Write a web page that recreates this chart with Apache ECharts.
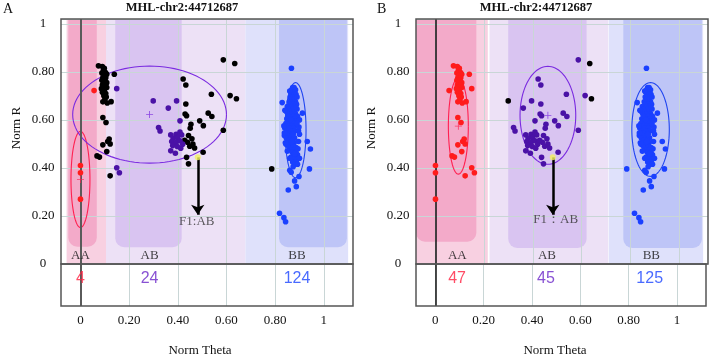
<!DOCTYPE html>
<html><head><meta charset="utf-8">
<script src="https://cdn.jsdelivr.net/npm/echarts@6/dist/echarts.min.js"></script>
<style>html,body{margin:0;padding:0;background:#fff}#c{width:709px;height:358px}</style>
</head><body><div id="c"></div>
<script>
// ---------------- DATA ----------------
const chartTitle = 'MHL-chr2:44712687';
const panelLetters = ['A', 'B'];
const clusterNames = ['AA', 'AB', 'BB'];
const countsA = [4, 24, 124];
const countsB = [47, 45, 125];
const xTickValues = [0, 0.2, 0.4, 0.6, 0.8, 1];
const xTickLabels = ['0', '0.20', '0.40', '0.60', '0.80', '1'];
const yTickValues = [0, 0.2, 0.4, 0.6, 0.8, 1];
const yTickLabels = ['0', '0.20', '0.40', '0.60', '0.80', '1'];
const noteA = 'F1:AB';
const noteB = 'F1\uFF1AAB';

// samples [Norm Theta, Norm R], grouped by (call in A, call in B)
const redRed = [[0, 0.41], [0, 0.38], [0, 0.27], [0.056, 0.722]];
const blackRed = [
  [0.074, 0.825], [0.09, 0.822], [0.098, 0.815], [0.094, 0.805], [0.1, 0.8], [0.088, 0.795], [0.104, 0.795],
  [0.097, 0.785], [0.108, 0.79], [0.092, 0.775], [0.104, 0.775], [0.088, 0.765], [0.1, 0.765], [0.094, 0.755],
  [0.108, 0.755], [0.09, 0.745], [0.104, 0.745], [0.096, 0.735], [0.108, 0.735], [0.098, 0.725], [0.09, 0.715],
  [0.104, 0.71], [0.096, 0.7], [0.106, 0.695], [0.1, 0.685], [0.092, 0.675], [0.11, 0.67], [0.126, 0.676],
  [0.139, 0.79], [0.086, 0.73],
  [0.092, 0.61], [0.105, 0.589], [0.092, 0.496], [0.112, 0.51], [0.118, 0.52], [0.122, 0.5], [0.108, 0.468],
  [0.068, 0.45], [0.078, 0.445], [0.122, 0.367]
];
const purpleRed = [[0.149, 0.73], [0.149, 0.401], [0.16, 0.38]];
const purpleBlack = [[0.299, 0.679]];
const purplePurple = [
  [0.361, 0.649], [0.395, 0.679], [0.409, 0.596], [0.321, 0.568], [0.327, 0.554],
  [0.371, 0.5375], [0.393, 0.54], [0.409, 0.549], [0.416, 0.5375], [0.381, 0.524], [0.399, 0.526],
  [0.375, 0.51], [0.393, 0.507], [0.409, 0.513], [0.42, 0.499], [0.379, 0.493], [0.398, 0.489],
  [0.412, 0.482], [0.371, 0.471], [0.39, 0.461]
];
const blackPurple = [
  [0.587, 0.85], [0.422, 0.77], [0.433, 0.745], [0.538, 0.707], [0.615, 0.701], [0.433, 0.666],
  [0.43, 0.624], [0.436, 0.617], [0.525, 0.628], [0.54, 0.614], [0.454, 0.582], [0.451, 0.565],
  [0.49, 0.596], [0.505, 0.576], [0.587, 0.557], [0.436, 0.444], [0.444, 0.417], [0.504, 0.465],
  [0.444, 0.535], [0.458, 0.521], [0.44, 0.507], [0.462, 0.499], [0.449, 0.49], [0.469, 0.483], [0.428, 0.515]
];
const blackBlack = [[0.634, 0.835], [0.641, 0.688]];
const blackBlue = [[0.786, 0.396]];
const blueBlue = [
  [0.867, 0.815], [0.829, 0.672], [0.932, 0.51], [0.945, 0.479], [0.941, 0.396], [0.854, 0.308], [0.887, 0.322],
  [0.88, 0.346], [0.866, 0.382], [0.898, 0.364], [0.818, 0.211], [0.836, 0.193], [0.843, 0.176], [0.912, 0.628], [0.86, 0.39],
  [0.872, 0.735], [0.878, 0.735],
  [0.868, 0.725], [0.876, 0.725], [0.884, 0.725],
  [0.864, 0.715], [0.872, 0.715], [0.88, 0.715],
  [0.87, 0.705], [0.878, 0.705], [0.886, 0.705],
  [0.862, 0.695], [0.874, 0.695], [0.882, 0.695],
  [0.866, 0.685], [0.878, 0.685],
  [0.858, 0.675], [0.87, 0.675], [0.884, 0.675],
  [0.862, 0.665], [0.876, 0.665], [0.888, 0.665],
  [0.85, 0.655], [0.868, 0.655], [0.88, 0.655],
  [0.856, 0.645], [0.874, 0.645], [0.89, 0.645],
  [0.846, 0.635], [0.862, 0.635], [0.878, 0.635],
  [0.852, 0.625], [0.87, 0.625], [0.884, 0.625],
  [0.858, 0.615], [0.876, 0.615], [0.892, 0.615],
  [0.848, 0.605], [0.866, 0.605], [0.882, 0.605],
  [0.854, 0.595], [0.872, 0.595], [0.888, 0.595],
  [0.844, 0.585], [0.862, 0.585], [0.878, 0.585],
  [0.852, 0.575], [0.868, 0.575], [0.884, 0.575],
  [0.84, 0.565], [0.86, 0.565], [0.876, 0.565],
  [0.848, 0.555], [0.866, 0.555], [0.882, 0.555], [0.896, 0.555],
  [0.856, 0.545], [0.874, 0.545],
  [0.838, 0.535], [0.852, 0.535], [0.87, 0.535],
  [0.846, 0.525], [0.864, 0.525], [0.88, 0.525],
  [0.856, 0.515], [0.872, 0.515],
  [0.842, 0.505], [0.862, 0.505], [0.878, 0.505],
  [0.85, 0.495], [0.868, 0.495],
  [0.858, 0.485], [0.874, 0.485], [0.886, 0.485],
  [0.864, 0.475], [0.88, 0.475],
  [0.87, 0.465], [0.886, 0.465],
  [0.876, 0.455], [0.892, 0.455],
  [0.866, 0.445], [0.882, 0.445],
  [0.878, 0.435], [0.89, 0.435],
  [0.872, 0.425], [0.886, 0.425],
  [0.88, 0.415], [0.892, 0.415],
  [0.874, 0.405],
  [0.84, 0.64], [0.836, 0.575], [0.838, 0.545], [0.844, 0.5], [0.85, 0.47], [0.86, 0.44], [0.9, 0.6],
  [0.898, 0.57], [0.9, 0.54], [0.896, 0.51], [0.894, 0.48], [0.9, 0.44], [0.89, 0.695], [0.886, 0.65],
  [0.89, 0.585], [0.86, 0.72], [0.864, 0.6], [0.874, 0.54], [0.868, 0.51], [0.88, 0.46]
];
const highlightSample = [[0.482, 0.444]];
const arrowTipR = 0.205;

// cluster ellipses [theta centre, R centre, theta radius, R radius] in order AA, AB, BB
const ellipsesA = [[0, 0.352, 0.039, 0.2], [0.284, 0.622, 0.316, 0.202], [0.884, 0.557, 0.043, 0.198]];
const ellipsesB = [[0.094, 0.574, 0.041, 0.2], [0.462, 0.619, 0.1145, 0.204], [0.884, 0.56, 0.077, 0.195]];
// cluster label theta positions
const labelThetaA = [0, 0.284, 0.89];
const labelThetaB = [0.09, 0.458, 0.887];
// cluster shading [theta from, theta to, R from, R to]
const regionsA = [[-0.057, 0.105, 0, 1.02], [0.105, 0.678, 0, 1.02], [0.678, 1.10, 0, 1.02],
                  [-0.05, 0.067, 0.072, 1.02], [0.143, 0.416, 0.07, 1.02], [0.816, 1.095, 0.07, 1.02]];
const regionsB = [[-0.08, 0.215, 0, 1.02], [0.222, 0.71, 0, 1.02], [0.712, 1.10, 0, 1.02],
                  [-0.08, 0.168, 0.093, 1.02], [0.299, 0.621, 0.067, 1.02], [0.772, 1.095, 0.067, 1.02]];
const regionKinds = ['AAo', 'ABo', 'BBo', 'AAi', 'ABi', 'BBi'];
const notePosA = [0.478, 0.176];
const notePosB = [0.494, 0.186];

// ---------------- STYLE ----------------
const SERIF = '"Liberation Serif","Times New Roman",serif';
const SANS = '"Liberation Sans",Arial,sans-serif';
const PT_COLORS = { red: '#ff1c1c', black: '#000000', purple: '#4a12a6', blue: '#1a40ff' };
const REGION_FILL = { AAo: '#f8d0e1', ABo: '#ede1f6', BBo: '#dfe1fb', AAi: '#f3aac9', ABi: '#d9c4f1', BBi: '#bec5f7' };
const ELLIPSE_STROKE = ['#ff2050', '#7a2ae0', '#2045f0'];
const COUNT_COLOR = ['#ff1f3f', '#6a25c8', '#1c45ff'];
const GRID_COLOR = '#c9d6d6';
const X_MIN = -0.08, X_MAX = 1.12, X_STEP = 0.04;

const pointGroups = [
  { pts: redRed, a: 'red', b: 'red' },
  { pts: blackRed, a: 'black', b: 'red' },
  { pts: purpleRed, a: 'purple', b: 'red' },
  { pts: purpleBlack, a: 'purple', b: 'black' },
  { pts: purplePurple, a: 'purple', b: 'purple' },
  { pts: blackPurple, a: 'black', b: 'purple' },
  { pts: blackBlack, a: 'black', b: 'black' },
  { pts: blackBlue, a: 'black', b: 'blue' },
  { pts: blueBlue, a: 'blue', b: 'blue' }
];

const panels = [
  { left: 61, regions: regionsA, ellipses: ellipsesA, labelTheta: labelThetaA, counts: countsA, key: 'a',
    zeroColor: '#5a5a5a', zeroWidth: 2, note: noteA, notePos: notePosA, titleX: 182, letterX: 3, normRX: 17 },
  { left: 416, regions: regionsB, ellipses: ellipsesB, labelTheta: labelThetaB, counts: countsB, key: 'b',
    zeroColor: '#111111', zeroWidth: 1.5, note: noteB, notePos: notePosB, titleX: 536, letterX: 377, normRX: 372 }
];

const nTicks = Math.round((X_MAX - X_MIN) / X_STEP) + 1;
const xSplitColors = [];
for (let i = 0; i < nTicks; i++) {
  const v = X_MIN + i * X_STEP;
  const idx = xTickValues.findIndex(t => Math.abs(t - v) < 1e-6);
  xSplitColors.push(idx >= 0 ? GRID_COLOR : 'rgba(0,0,0,0)');
}
function xFmt(v) {
  const idx = xTickValues.findIndex(t => Math.abs(t - v) < 1e-6);
  return idx >= 0 ? xTickLabels[idx] : '';
}
function yFmt(v) {
  const idx = yTickValues.findIndex(t => Math.abs(t - v) < 1e-6);
  return idx >= 0 ? yTickLabels[idx] : '';
}

const grids = [], xAxes = [], yAxes = [], series = [], graphics = [];
const PLUS = 'path://M4.4,0H5.6V4.4H10V5.6H5.6V10H4.4V5.6H0V4.4H4.4Z';

panels.forEach((p, pi) => {
  const gTop = pi * 2, gBot = pi * 2 + 1;
  grids.push({ left: p.left, top: 19, width: 292, height: 245, show: true, borderColor: '#555', borderWidth: 1.5, backgroundColor: 'rgba(0,0,0,0)', z: 10 });
  grids.push({ left: p.left, top: 264, width: 292, height: 42, show: true, borderColor: '#555', borderWidth: 1.5, backgroundColor: 'rgba(0,0,0,0)', z: 10 });
  [gTop, gBot].forEach(g => {
    xAxes.push({
      type: 'value', gridIndex: g, min: X_MIN, max: X_MAX, interval: X_STEP, z: 3,
      axisLine: { show: false }, axisTick: { show: false },
      splitLine: { show: true, lineStyle: { color: xSplitColors, width: 1 } },
      axisLabel: { show: g === gBot, formatter: xFmt, margin: 8, fontFamily: SERIF, fontSize: 13, color: '#111' }
    });
  });
  yAxes.push({
    type: 'value', gridIndex: gTop, min: 0, max: 1.02, interval: 0.2, z: 3,
    axisLine: { show: false }, axisTick: { show: false },
    splitLine: { show: true, lineStyle: { color: GRID_COLOR, width: 1 } },
    axisLabel: { formatter: yFmt, margin: 18, align: 'center', fontFamily: SERIF, fontSize: 13, color: '#111' }
  });
  yAxes.push({ type: 'value', gridIndex: gBot, min: 0, max: 1, show: false });

  // background shading
  series.push({
    type: 'custom', xAxisIndex: gTop, yAxisIndex: gTop, z: 1, silent: true, clip: true,
    data: p.regions,
    renderItem: (params, api) => {
      const r = p.regions[params.dataIndex];
      const kind = regionKinds[params.dataIndex];
      const a = api.coord([r[0], r[3]]);
      const b = api.coord([r[1], r[2]]);
      const inner = kind.endsWith('i');
      return { type: 'rect', shape: { x: a[0], y: a[1], width: b[0] - a[0], height: b[1] - a[1], r: inner ? [0, 0, 9, 9] : 0 },
               style: { fill: REGION_FILL[kind] } };
    }
  });
  // x = 0 line, top and bottom
  [gTop, gBot].forEach(g => {
    series.push({
      type: 'scatter', xAxisIndex: g, yAxisIndex: g, data: [], z: 4, silent: true,
      markLine: { silent: true, symbol: 'none', label: { show: false }, animation: false,
        lineStyle: { color: p.zeroColor, width: p.zeroWidth, type: 'solid' }, data: [{ xAxis: 0 }] }
    });
  });
  // ellipses
  series.push({
    type: 'custom', xAxisIndex: gTop, yAxisIndex: gTop, z: 4, silent: true,
    data: p.ellipses,
    renderItem: (params, api) => {
      const e = p.ellipses[params.dataIndex];
      const c = api.coord([e[0], e[1]]);
      const s = api.size([e[2], e[3]]);
      const pts = [];
      for (let k = 0; k <= 96; k++) {
        const t = k / 96 * Math.PI * 2;
        pts.push([c[0] + s[0] * Math.cos(t), c[1] + s[1] * Math.sin(t)]);
      }
      return { type: 'polyline', shape: { points: pts }, style: { fill: null, stroke: ELLIPSE_STROKE[params.dataIndex], lineWidth: 1.1 } };
    }
  });
  // points grouped by colour
  Object.keys(PT_COLORS).forEach(col => {
    const pts = [];
    pointGroups.forEach(gr => { if (gr[p.key] === col) gr.pts.forEach(q => pts.push(q)); });
    series.push({
      type: 'scatter', xAxisIndex: gTop, yAxisIndex: gTop, z: 5, symbolSize: 5.6,
      itemStyle: { color: PT_COLORS[col], opacity: 1 }, data: pts
    });
  });
  // mean markers
  series.push({
    type: 'scatter', xAxisIndex: gTop, yAxisIndex: gTop, z: 6, symbol: PLUS, symbolSize: 7,
    data: p.ellipses.slice(0, 2).map((e, i) => ({ value: [e[0], e[1]], itemStyle: { color: ELLIPSE_STROKE[i] } }))
  });
  // arrow from highlighted sample
  series.push({
    type: 'scatter', xAxisIndex: gTop, yAxisIndex: gTop, z: 6, data: [], silent: true,
    markLine: { silent: true, symbol: ['none', 'arrow'], symbolSize: 10, label: { show: false }, animation: false,
      lineStyle: { color: '#000', width: 2.5, type: 'solid' },
      data: [[{ coord: highlightSample[0], symbol: 'none' }, { coord: [highlightSample[0][0], arrowTipR], symbol: 'arrow' }]] }
  });
  // highlighted sample
  series.push({
    type: 'scatter', xAxisIndex: gTop, yAxisIndex: gTop, z: 7, symbolSize: 6,
    itemStyle: { color: '#f2f25c' }, data: highlightSample
  });
  // note text
  series.push({
    type: 'scatter', xAxisIndex: gTop, yAxisIndex: gTop, z: 7, symbolSize: 0,
    data: [p.notePos],
    label: { show: true, position: 'inside', formatter: () => p.note, fontFamily: SERIF, fontSize: 13, color: '#333' }
  });
  // cluster names
  series.push({
    type: 'scatter', xAxisIndex: gTop, yAxisIndex: gTop, z: 7, symbolSize: 0,
    data: p.labelTheta.map((t, i) => ({ value: [t, 0.035], name: clusterNames[i] })),
    label: { show: true, position: 'inside', formatter: d => d.name, fontFamily: SERIF, fontSize: 13, color: '#111' }
  });
  // counts
  series.push({
    type: 'scatter', xAxisIndex: gBot, yAxisIndex: gBot, z: 7, symbolSize: 0,
    data: p.labelTheta.map((t, i) => ({ value: [t, 0.66], name: String(p.counts[i]),
      label: { color: COUNT_COLOR[i] } })),
    label: { show: true, position: 'inside', formatter: d => d.name, fontFamily: SANS, fontSize: 16 }
  });

  graphics.push({ type: 'text', x: p.letterX, y: 2, style: { text: panelLetters[pi], font: '14px ' + SERIF, fill: '#111' } });
  graphics.push({ type: 'text', x: p.titleX, y: 8, style: { text: chartTitle, textAlign: 'center', textVerticalAlign: 'middle', font: 'bold 12.5px ' + SERIF, fill: '#111' } });
  graphics.push({ type: 'text', x: p.normRX, y: 128, rotation: Math.PI / 2, style: { text: 'Norm R', textAlign: 'center', textVerticalAlign: 'middle', font: '13px ' + SERIF, fill: '#111' } });
  graphics.push({ type: 'text', x: p.left + 139, y: 351, style: { text: 'Norm Theta', textAlign: 'center', textVerticalAlign: 'middle', font: '13px ' + SERIF, fill: '#111' } });
});

const chart = echarts.init(document.getElementById('c'));
chart.setOption({
  animation: false,
  backgroundColor: '#fff',
  grid: grids, xAxis: xAxes, yAxis: yAxes, series: series, graphic: graphics
});
</script>
</body></html>
